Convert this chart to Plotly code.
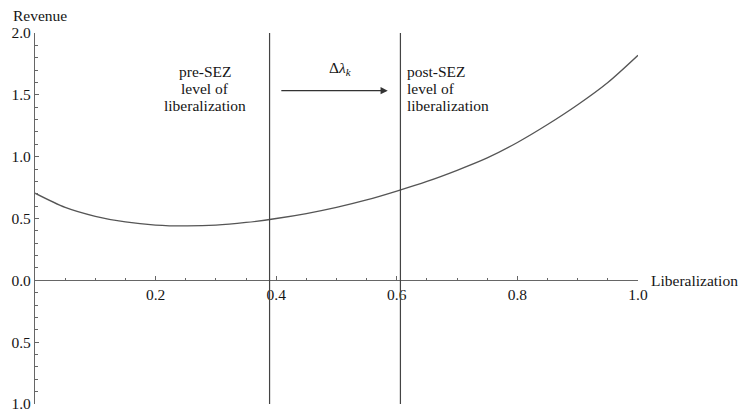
import plotly.graph_objects as go

# Curve
liberalization = [0.0, 0.05, 0.1, 0.15, 0.2, 0.25, 0.3, 0.35, 0.4, 0.45, 0.5,
                  0.55, 0.6, 0.65, 0.7, 0.75, 0.8, 0.85, 0.9, 0.95, 1.0]
revenue = [0.705, 0.59, 0.518, 0.472, 0.447, 0.44, 0.446, 0.468, 0.50, 0.54, 0.59,
           0.65, 0.722, 0.80, 0.89, 0.99, 1.115, 1.26, 1.42, 1.60, 1.82]

# Vertical reference levels
levels = [0.389, 0.606]
pre_lines = ["pre-SEZ", "level of", "liberalization"]
post_lines = ["post-SEZ", "level of", "liberalization"]
line_y = [1.689, 1.553, 1.416]

x_tickvals = [0.2, 0.4, 0.6, 0.8, 1.0]
x_ticktext = ["0.2", "0.4", "0.6", "0.8", "1.0"]
y_tickvals = [-1.0, -0.5, 0.0, 0.5, 1.0, 1.5, 2.0]
y_ticktext = ["1.0", "0.5", "0.0", "0.5", "1.0", "1.5", "2.0"]

FONT = "Liberation Serif"
FS = 15.5
AX = "#666666"
TXT = "#151515"

fig = go.Figure()
fig.add_trace(go.Scatter(x=liberalization, y=revenue, mode="lines",
                         line=dict(color="#555555", width=1.3, shape="spline", smoothing=0.8),
                         hoverinfo="skip", showlegend=False))

for lv in levels:
    fig.add_shape(type="line", x0=lv, x1=lv, y0=-1, y1=2, xref="x", yref="y",
                  line=dict(color="#444444", width=1.2))

# labels
for t, yv in zip(pre_lines, line_y):
    fig.add_annotation(x=0.282, y=yv, xref="x", yref="y", text=t,
                       showarrow=False, xanchor="center", yanchor="middle",
                       font=dict(family=FONT, size=FS, color=TXT))
for t, yv in zip(post_lines, line_y):
    fig.add_annotation(x=levels[1] + 0.008, y=yv, xref="x", yref="y", text=t,
                       showarrow=False, xanchor="left", yanchor="middle",
                       font=dict(family=FONT, size=FS, color=TXT))

# arrow
fig.add_annotation(x=0.585, y=1.534, ax=0.406, ay=1.534, xref="x", yref="y",
                   axref="x", ayref="y", text="", showarrow=True, arrowhead=2,
                   arrowsize=1.2, arrowwidth=1.2, arrowcolor="#333333")
fig.add_annotation(x=0.506, y=1.71, xref="x", yref="y",
                   text="Δ<i>λ<sub>k</sub></i>", showarrow=False,
                   font=dict(family=FONT, size=FS, color=TXT))

# axis titles
fig.add_annotation(x=0.008, y=1.046, xref="paper", yref="paper", text="Revenue",
                   showarrow=False, xanchor="center", yanchor="middle",
                   font=dict(family=FONT, size=FS, color=TXT))
fig.add_annotation(x=1.019, y=0.0, xref="paper", yref="y", text="Liberalization",
                   showarrow=False, xanchor="left", yanchor="middle",
                   font=dict(family=FONT, size=FS, color=TXT))

fig.update_layout(
    width=741, height=412,
    margin=dict(l=35, r=103, t=33, b=8, autoexpand=False),
    plot_bgcolor="white", paper_bgcolor="white",
    font=dict(family=FONT, size=FS, color=TXT),
    xaxis=dict(range=[0, 1], showgrid=False, zeroline=False, automargin=False,
               anchor="free", position=1/3,
               showline=True, linecolor=AX, linewidth=1.2,
               tickvals=x_tickvals, ticktext=x_ticktext,
               ticks="inside", ticklen=4, tickcolor=AX, tickwidth=1,
               ticklabeloverflow="allow",
               minor=dict(dtick=0.05, tick0=0, ticks="inside", ticklen=2.5,
                          tickcolor=AX, tickwidth=1, showgrid=False)),
    yaxis=dict(range=[-1, 2], showgrid=False, zeroline=False, automargin=False,
               showline=True, linecolor=AX, linewidth=1.2,
               tickvals=y_tickvals, ticktext=y_ticktext,
               ticks="inside", ticklen=4, tickcolor=AX, tickwidth=1,
               ticklabeloverflow="allow",
               minor=dict(dtick=0.1, tick0=0, ticks="inside", ticklen=2.5,
                          tickcolor=AX, tickwidth=1, showgrid=False)),
)

fig.write_html("out.html", config={"displayModeBar": False},
               post_script="document.body.style.margin='0';")
